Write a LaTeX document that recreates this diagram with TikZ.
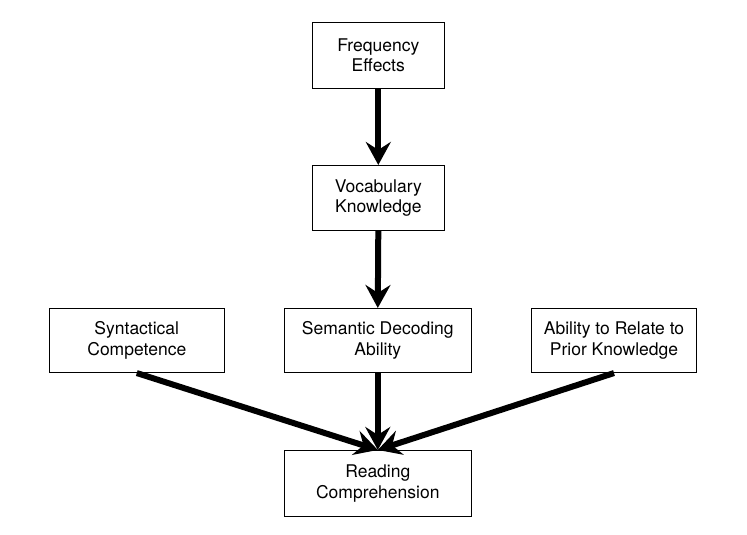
\documentclass[tikz,border=0pt]{standalone}
\usepackage{fontspec}
\setmainfont{TeX Gyre Heros}
\usetikzlibrary{arrows.meta}

\tikzset{
  box/.style={draw, line width=1.1pt, align=center, inner sep=0pt,
    font=\fontsize{17.5}{20.5}\selectfont},
  flow/.style={line width=6pt, -{Stealth[length=23pt, width=25pt, inset=8pt]}}
}

\begin{document}
\begin{tikzpicture}[x=1pt, y=-1pt]
    \useasboundingbox (0,0) rectangle (747,535);
    \node[box, minimum width=132pt, minimum height=66pt] (freq)  at (378.3, 55.3) {Frequency\\Effects};
    \node[box, minimum width=132pt, minimum height=65pt] (vocab) at (378.3,198.0) {Vocabulary\\Knowledge};
    \node[box, minimum width=175pt, minimum height=64pt] (synt)  at (136.8,340.5) {Syntactical\\Competence};
    \node[box, minimum width=187pt, minimum height=64pt] (sem)   at (377.8,340.5) {Semantic Decoding\\Ability};
    \node[box, minimum width=165pt, minimum height=64pt] (prior) at (614.0,340.5) {Ability to Relate to\\Prior Knowledge};
    \node[box, minimum width=187pt, minimum height=66pt] (read)  at (377.8,483.5) {Reading\\Comprehension};
    \draw[flow] (freq.south)  -- (vocab.north);
    \draw[flow] (vocab.south) -- (sem.north);
    \draw[flow] (sem.south)   -- (read.north);
    \draw[flow] (synt.south)  -- (read.north);
    \draw[flow] (prior.south) -- (read.north);
  \end{tikzpicture}
\end{document}
